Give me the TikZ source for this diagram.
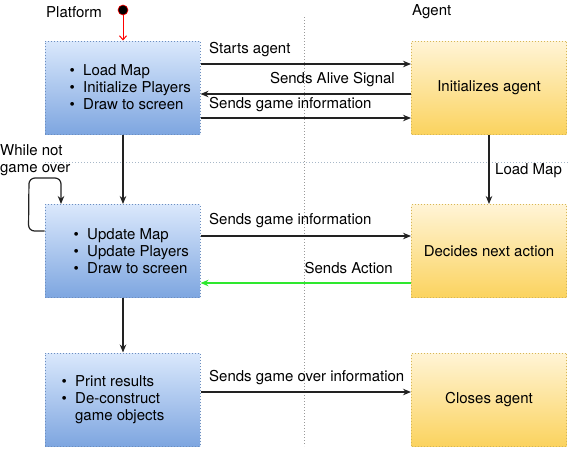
\documentclass[tikz,border=0pt]{standalone}
\usepackage{fontspec}
\setmainfont{TeX Gyre Heros}
\usetikzlibrary{arrows.meta,calc}
\definecolor{btop}{HTML}{DAE8FC}
\definecolor{bbot}{HTML}{7EA6E0}
\definecolor{bline}{HTML}{6C8EBF}
\definecolor{otop}{HTML}{FFF4D6}
\definecolor{obot}{HTML}{FBD35F}
\definecolor{oline}{HTML}{D6B656}
\definecolor{lnk}{HTML}{222222}
\definecolor{grn}{HTML}{2EE82E}
\definecolor{sep}{HTML}{999999}
\definecolor{sepb}{HTML}{A8B8C8}
\tikzset{
  txt/.style={font=\fontsize{15}{17}\selectfont, text=black},
  bluebox/.style={draw=bline, dotted, line width=1pt, top color=btop, bottom color=bbot,
    minimum width=155pt, minimum height=93pt, inner sep=0pt},
  orangebox/.style={txt, draw=oline, dotted, line width=1pt, top color=otop, bottom color=obot,
    minimum width=155pt, minimum height=93pt, inner sep=0pt, align=center},
  listtxt/.style={txt, inner sep=0pt, anchor=west, align=left},
  lbl/.style={txt, inner sep=0pt},
  arr/.style={draw=lnk, line width=1.2pt, -{Stealth[length=8pt,width=6.5pt]}},
  garr/.style={draw=grn, line width=1.2pt, -{Stealth[length=8pt,width=6.5pt]}},
}
\newcommand{\bl}{\makebox[22pt][c]{\textbullet}}
\newcommand{\nb}{\makebox[22pt]{}}
\begin{document}
\begin{tikzpicture}[x=1pt,y=-1pt]
\useasboundingbox (0,0) rectangle (572,467);
% swimlane separators
\draw[sep, dotted, line width=1pt] (304,17) -- (304,446);
\draw[sepb, dotted, line width=1pt] (45,162) -- (569,162);
% lane titles
\node[lbl, anchor=west] (plat) at (46,12) {Platform};
\node[lbl, anchor=west] (agt) at (412,12) {Agent};
% start
\node[circle, fill=black, draw=red, line width=0.6pt, minimum size=10pt, inner sep=0pt] (start) at (123,10) {};
% boxes
\node[bluebox] (b1) at (122.5,87.5) {};
\node[bluebox] (b2) at (122.5,251) {};
\node[bluebox] (b3) at (122.5,399.5) {};
\node[listtxt] (b1t) at (61,87.5) {\bl Load Map\\ \bl Initialize Players\\ \bl Draw to screen};
\node[listtxt] (b2t) at (65,251) {\bl Update Map\\ \bl Update Players\\ \bl Draw to screen};
\node[listtxt] (b3t) at (53,399.5) {\bl Print results\\ \bl De-construct\\ \nb game objects};
\node[orangebox] (a1) at (489,87.5) {Initializes agent};
\node[orangebox] (a2) at (489,251) {Decides next action};
\node[orangebox] (a3) at (489,399.5) {Closes agent};
% start arrow
\draw[draw=red, line width=1pt, -{Straight Barb[length=4pt,width=7pt]}] (start) -- (b1.north -| start);
% platform <-> agent messages
\draw[arr] ([yshift=23.5pt]b1.east) -- ([yshift=23.5pt]a1.west);
\draw[arr] ([yshift=-6.5pt]a1.west) -- ([yshift=-6.5pt]b1.east);
\draw[arr] ([yshift=-30.5pt]b1.east) -- ([yshift=-30.5pt]a1.west);
\draw[arr] ([yshift=15pt]b2.east) -- ([yshift=15pt]a2.west);
\draw[garr] ([yshift=-32pt]a2.west) -- ([yshift=-32pt]b2.east);
\draw[arr] ([yshift=7.5pt]b3.east) -- ([yshift=7.5pt]a3.west);
% vertical flow
\draw[arr] (b1.south -| start) -- (b2.north -| start);
\draw[arr] (b2.south -| start) -- (b3.north -| start);
\draw[arr] (a1.south) -- (a2.north);
% loop
\coordinate (lp) at (61,205);
\draw[arr, rounded corners=6pt] ([yshift=20pt]b2.west) -- ++(-16,0) -- (29,178) -- (61,178) -- (b2.north -| lp);
% labels
\node[lbl, anchor=west] (l1) at (209,50) {Starts agent};
\node[lbl, anchor=east] (l2) at (395,80) {Sends Alive Signal};
\node[lbl, anchor=west] (l3) at (209,105) {Sends game information};
\node[lbl, anchor=west] (l4) at (495,171) {Load Map};
\node[lbl, anchor=west] (l5) at (209,221) {Sends game information};
\node[lbl, anchor=east] (l6) at (393,268) {Sends Action};
\node[lbl, anchor=west] (l7) at (209,378) {Sends game over information};
\node[lbl, anchor=north west, align=left] (l8) at (0,144) {While not\\game over};
\end{tikzpicture}
\end{document}
